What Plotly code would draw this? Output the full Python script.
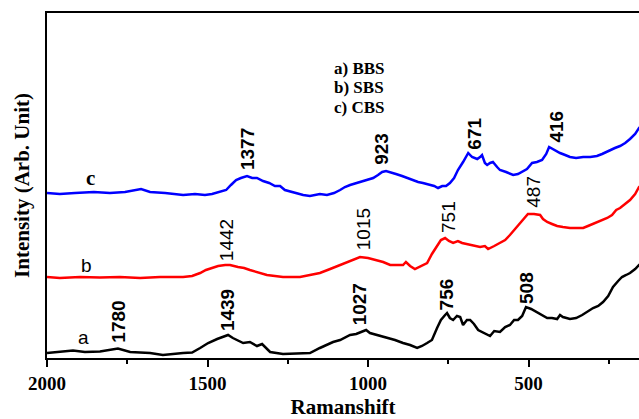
import plotly.graph_objects as go

# ---- data (Raman shift in cm-1, intensity in arbitrary units) ----
shift_a = [2000, 1960, 1919, 1882, 1835, 1779, 1741, 1679, 1639, 1576, 1548, 1523, 1498, 1470, 1445, 1436,
           1421, 1389, 1368, 1346, 1330, 1305, 1265, 1212, 1181, 1150, 1131, 1109, 1087, 1056, 1037, 1019,
           1006, 994, 969, 941, 916, 891, 869, 847, 832, 816, 801, 785, 773, 760, 754, 745, 735, 723,
           713, 704, 692, 682, 670, 657, 639, 620, 607, 589, 573, 558, 545, 533, 520, 508, 492, 474,
           458, 442, 427, 411, 402, 393, 371, 352, 333, 318, 299, 283, 268, 252, 237, 221, 209, 196,
           184, 168, 156, 137]
int_a = [5, 6, 7.5, 6, 6.5, 9.5, 6, 5, 3, 5, 5.5, 10, 15, 19, 22, 23,
         20, 15, 16, 12, 14, 6, 4, 5, 5, 10, 13, 16, 18, 23, 24, 26,
         28, 25, 23, 20, 18, 15, 13, 10, 12, 15, 18, 30, 38, 43, 45, 40, 38, 42,
         41, 33, 38, 38, 34, 28, 25, 22, 27, 26, 31, 33, 38, 38, 42, 51, 49, 46,
         43, 40, 40, 39, 43, 41, 39, 40, 43, 46, 50, 52, 56, 62, 71, 77, 81, 83,
         85, 89, 93, 96]

shift_b = [2000, 1960, 1897, 1835, 1773, 1710, 1648, 1576, 1548, 1523, 1505, 1486, 1467, 1445, 1430, 1405,
           1386, 1368, 1343, 1315, 1290, 1265, 1237, 1212, 1181, 1150, 1118, 1087, 1056, 1040, 1025, 1000,
           972, 953, 931, 910, 891, 882, 869, 854, 835, 816, 801, 785, 773, 760, 748, 735, 720, 707,
           692, 673, 651, 636, 626, 607, 589, 573, 558, 545, 533, 517, 502, 483, 464, 455, 442, 427,
           411, 393, 371, 349, 330, 315, 299, 277, 255, 240, 227, 215, 199, 184, 168, 156, 137]
int_b = [81, 80, 81, 80.5, 81, 80, 81, 81, 82, 85, 88, 90, 92, 93, 93, 91,
         90, 88, 86, 83, 82, 81, 81, 81, 83, 85, 89, 93, 97, 99, 101, 100,
         98, 96, 93, 93, 93, 96, 92, 89, 92, 95, 104, 112, 118, 120, 117, 115, 117, 115,
         114, 113, 111, 112, 109, 112, 115, 118, 123, 128, 133, 138, 144, 144, 143, 139, 136, 134,
         132, 131, 130, 130, 130, 132, 134, 137, 140, 143, 148, 150, 154, 158, 164, 171, 176]

shift_c = [2000, 1960, 1913, 1854, 1804, 1757, 1707, 1679, 1632, 1576, 1539, 1508, 1486, 1461, 1442, 1427,
           1411, 1396, 1377, 1361, 1346, 1327, 1308, 1290, 1274, 1259, 1227, 1202, 1181, 1150, 1128, 1106,
           1087, 1072, 1056, 1034, 1016, 1003, 984, 969, 956, 944, 931, 913, 894, 879, 860, 844, 829, 807,
           794, 782, 769, 757, 745, 732, 720, 704, 688, 676, 660, 651, 645, 636, 629, 620, 611, 598,
           589, 570, 548, 533, 520, 505, 489, 474, 458, 445, 436, 421, 402, 386, 371, 352, 330, 308,
           287, 271, 259, 246, 231, 215, 199, 184, 168, 156, 137]
int_c = [165, 164, 165, 166, 165, 166, 169, 166, 165, 163, 164, 163, 164, 166, 168, 173,
         178, 180, 182, 180, 180, 177, 175, 172, 172, 168, 165, 163, 162, 164, 163, 165,
         168, 171, 173, 175, 177, 178, 180, 183, 186, 187, 186, 184, 182, 180, 178, 176, 175, 173,
         172, 170, 172, 172, 175, 180, 188, 196, 205, 201, 199, 201, 203, 195, 193, 195, 196, 191,
         188, 186, 183, 184, 186, 189, 195, 196, 198, 204, 211, 208, 205, 203, 201, 200, 201, 201,
         202, 204, 206, 208, 210, 212, 215, 219, 224, 230, 236]

# peak labels: value, label bottom height (arb. unit)
peaks_a = [1780, 1439, 1027, 756, 508]
label_y_a = [13, 25, 31, 46, 52]
peaks_b = [1442, 1015, 751, 487]
label_y_b = [95, 106, 123, 148]
peaks_c = [1377, 923, 671, 416]
label_y_c = [186, 191, 206, 213]

series_names = ["a", "b", "c"]
series_name_pos = [(1886, 21), (1878, 93), (1866, 180)]
legend_lines = ["a) BBS", "b) SBS", "c) CBS"]

# ------------------------------------------------------------------------------------------
fig = go.Figure()
fig.add_trace(go.Scatter(x=shift_a, y=int_a, mode="lines", line=dict(color="black", width=2.5)))
fig.add_trace(go.Scatter(x=shift_b, y=int_b, mode="lines", line=dict(color="#ff0000", width=2.5)))
fig.add_trace(go.Scatter(x=shift_c, y=int_c, mode="lines", line=dict(color="#0000ff", width=2.5)))

SANS = "Liberation Sans, Arial, sans-serif"
SERIF = "Liberation Serif, Times New Roman, serif"

ann = []
for px, py in zip(peaks_a, label_y_a):
    ann.append(dict(x=px, y=py, text=str(px), textangle=-90, showarrow=False, xanchor="center",
                    yanchor="bottom", font=dict(family=SANS, size=19, color="black", weight="bold")))
for px, py in zip(peaks_b, label_y_b):
    ann.append(dict(x=px, y=py, text=str(px), textangle=-90, showarrow=False, xanchor="center",
                    yanchor="bottom", font=dict(family=SANS, size=19, color="black")))
for px, py in zip(peaks_c, label_y_c):
    ann.append(dict(x=px, y=py, text=str(px), textangle=-90, showarrow=False, xanchor="center",
                    yanchor="bottom", xshift=-12 if px == 923 else 0,
                    font=dict(family=SANS, size=19, color="black", weight="bold")))

for name, (sx, sy) in zip(series_names, series_name_pos):
    if name == "c":
        f = dict(family=SERIF, size=21, color="black", weight="bold")
    else:
        f = dict(family=SANS, size=19, color="black")
    ann.append(dict(x=sx, y=sy, text=name, showarrow=False, xanchor="center", yanchor="middle", font=f))

W, H = 639, 419
ML, MR, MT, MB = 47, 0, 13, 61
for i, line in enumerate(legend_lines):
    ann.append(dict(x=(332 - ML) / (W - ML - MR), y=1 - (68 + 19.5 * i - MT) / (H - MT - MB),
                    xref="paper", yref="paper", text=line, showarrow=False,
                    xanchor="left", yanchor="middle",
                    font=dict(family=SERIF, size=17, color="black", weight="bold")))

fig.update_layout(
    width=W, height=H,
    margin=dict(l=ML, r=MR, t=MT, b=MB),
    plot_bgcolor="white", paper_bgcolor="white",
    showlegend=False,
    annotations=ann,
    xaxis=dict(
        range=[2000, 156], tickvals=[2000, 1500, 1000, 500], ticktext=["2000", "1500", "1000", "500"],
        ticks="outside", ticklen=7, tickwidth=2, tickcolor="black",
        minor=dict(dtick=250, tick0=0, ticks="outside", ticklen=4, tickwidth=2, tickcolor="black"),
        showline=True, linewidth=2, linecolor="black", mirror=True,
        showgrid=False, zeroline=False,
        tickfont=dict(family=SERIF, size=19, color="black", weight="bold"),
        title=dict(text="Ramanshift", standoff=10,
                   font=dict(family=SERIF, size=21, color="black", weight="bold")),
    ),
    yaxis=dict(
        range=[0, 345], showticklabels=False, ticks="",
        showline=True, linewidth=2, linecolor="black", mirror=False,
        showgrid=False, zeroline=False,
        title=dict(text="Intensity (Arb. Unit)", standoff=10,
                   font=dict(family=SERIF, size=21, color="black", weight="bold")),
    ),
)

fig.write_html("out.html")
